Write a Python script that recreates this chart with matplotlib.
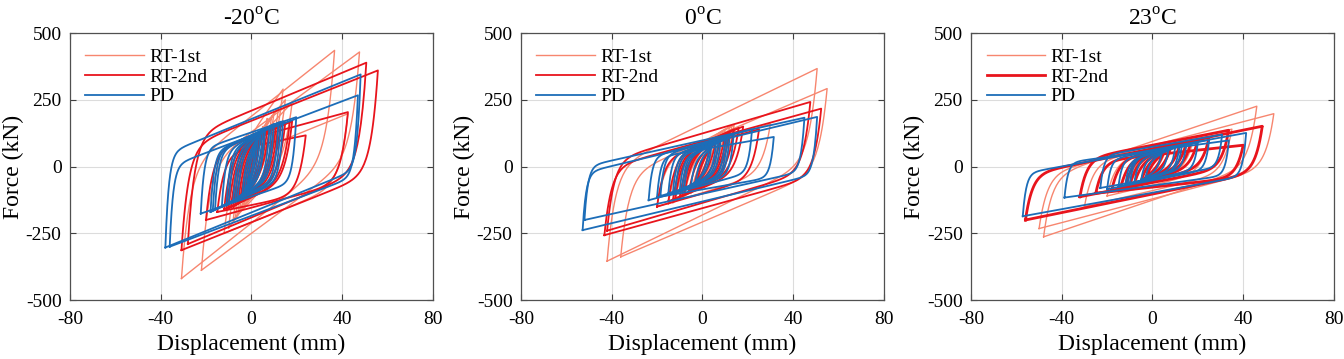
import numpy as np
import matplotlib
matplotlib.use("Agg")
import matplotlib.pyplot as plt

plt.rcParams["font.family"] = ["Liberation Serif", "DejaVu Serif"]
plt.rcParams["mathtext.fontset"] = "custom"
plt.rcParams["mathtext.rm"] = "Liberation Serif"
plt.rcParams["axes.unicode_minus"] = False

# Hysteresis cycles:
# (negative peak disp mm, negative peak force kN, positive peak disp mm, positive peak force kN, half loop height kN)
titles = ["-20$^{\\mathrm{o}}$C", "0$^{\\mathrm{o}}$C", "23$^{\\mathrm{o}}$C"]
series_names = ["RT-1st", "RT-2nd", "PD"]

rt1_m20 = [(-30.8, -419, 36.7, 435, 200), (-22, -388, 47.7, 429, 190), (-12, -250, 42.6, 198, 130),
           (-10, -230, 14, 290, 120), (-8, -200, 15, 250, 110), (-7, -190, 18, 240, 105),
           (-6, -180, 12, 220, 100), (-5, -160, 10, 200, 90), (-4, -150, 9, 190, 85),
           (-3, -140, 7, 180, 80), (-2, -120, 5, 150, 65)]
rt2_m20 = [(-30.8, -313, 55.8, 360, 190), (-28, -290, 50.7, 389, 200), (-20, -200, 42.6, 204, 130),
           (-15, -170, 24, 117, 110), (-12, -160, 18, 170, 110), (-11, -158, 17, 168, 108),
           (-10, -155, 15, 165, 105), (-9, -152, 13, 162, 102), (-8, -150, 12, 160, 100),
           (-7, -145, 11, 155, 98), (-6, -140, 10, 150, 95), (-5, -130, 8, 140, 85),
           (-4, -122, 7, 135, 80), (-3, -115, 6, 130, 75), (-2, -100, 4, 110, 60)]
pd_m20 = [(-37.9, -303, 48.2, 345, 175), (-36, -300, 47, 267, 150), (-22.3, -176, 19.8, 185, 120),
          (-18, -170, 14, 170, 110), (-17, -165, 13, 168, 108), (-16, -160, 12, 165, 105),
          (-13, -150, 10, 160, 100), (-11, -145, 9, 155, 98), (-10, -140, 8, 150, 95),
          (-8, -130, 6, 140, 90), (-7, -125, 6, 135, 85), (-6, -120, 5, 130, 80),
          (-4, -110, 4, 120, 70), (-3, -100, 3, 110, 60), (-2, -85, 2, 90, 48)]

rt1_0 = [(-42, -354, 50.6, 367, 170), (-36, -338, 55, 292, 150), (-20, -150, 30, 160, 90),
         (-15, -140, 14, 155, 85), (-13, -135, 13, 152, 82), (-12, -130, 12, 150, 80),
         (-10, -120, 10, 140, 75), (-9, -115, 9, 135, 70), (-8, -110, 8, 130, 65),
         (-5, -100, 6, 110, 55), (-3, -85, 4, 95, 45)]
rt2_0 = [(-43.2, -257, 52.4, 217, 125), (-42, -240, 47.6, 242, 130), (-20, -150, 25, 140, 90),
         (-15, -130, 18, 150, 85), (-13, -125, 16, 145, 82), (-12, -120, 14, 140, 80),
         (-10, -115, 12, 130, 75), (-9, -110, 11, 125, 72), (-8, -105, 10, 120, 70),
         (-6, -95, 8, 110, 60), (-4, -85, 6, 95, 50), (-3, -75, 4, 85, 42)]
pd_0 = [(-52.8, -238, 50.6, 186, 107), (-52, -200, 45, 183, 100), (-20, -115, 31.5, 111, 75),
        (-23.7, -126, 21.9, 140, 80), (-18.5, -110, 13.8, 120, 75), (-15, -100, 12, 110, 70),
        (-13, -98, 11, 105, 68), (-12, -95, 10, 100, 65), (-10, -90, 8, 95, 60),
        (-9, -85, 7, 90, 58), (-8, -80, 6, 85, 55), (-5, -70, 4, 75, 45), (-3, -60, 3, 65, 38)]

rt1_23 = [(-48, -263, 46, 226, 110), (-50, -232, 53.5, 198, 100), (-30, -150, 35, 140, 80),
          (-20, -110, 25, 110, 65), (-15, -95, 18, 100, 55), (-12, -88, 15, 95, 52),
          (-10, -80, 12, 90, 50), (-6, -70, 8, 75, 40), (-4, -60, 6, 65, 35)]
rt2_23 = [(-56, -200, 48.4, 151, 85), (-32, -113, 33.6, 136, 70), (-25, -100, 40, 80, 60),
          (-18, -90, 25, 110, 55), (-14, -80, 20, 100, 50), (-12, -75, 17, 95, 48),
          (-10, -70, 15, 90, 45), (-8, -65, 12, 80, 40), (-5, -55, 8, 70, 35), (-3, -45, 5, 55, 28)]
pd_23 = [(-57.2, -186, 41.3, 126, 80), (-38.8, -116, 33.7, 98, 65), (-23, -80, 30.7, 120, 60),
         (-20, -85, 25, 100, 55), (-15, -75, 20, 90, 50), (-12, -70, 15, 85, 45),
         (-11, -68, 13, 82, 45), (-10, -65, 12, 80, 45), (-8, -60, 10, 70, 40),
         (-5, -50, 7, 60, 35), (-3, -40, 4, 48, 28)]

panels = [[rt1_m20, rt2_m20, pd_m20], [rt1_0, rt2_0, pd_0], [rt1_23, rt2_23, pd_23]]

x_ticks = [-80, -40, 0, 40, 80]
y_ticks = [-500, -250, 0, 250, 500]

colors = ["#F7866F", "#E8141C", "#1C6DB8"]
widths = [[1.0, 1.3, 1.3], [1.0, 1.3, 1.3], [1.0, 2.0, 1.3]]
corner = [3.5, 3.0, 1.5]  # unloading sharpness (mm) per series


def loop_path(dneg, fneg, dpos, fpos, q, dy):
    """Closed hysteresis loop through the two peaks."""
    k2 = (fpos - fneg - 2 * q) / (dpos - dneg)
    d_up = np.linspace(dneg, dpos, 200)
    f_up = fpos + k2 * (d_up - dpos) - 2 * q * np.exp(-(d_up - dneg) / dy)
    d_dn = d_up[::-1]
    f_dn = fneg + k2 * (d_dn - dneg) + 2 * q * np.exp(-(dpos - d_dn) / dy)
    return np.concatenate([d_up, d_dn]), np.concatenate([f_up, f_dn])


fig = plt.figure(figsize=(13.44, 3.59), dpi=100)
lefts = [0.052, 0.3876, 0.7225]

for p, cycles_set in enumerate(panels):
    ax = fig.add_axes([lefts[p], 0.164, 0.270, 0.744])
    for s, cycles in enumerate(cycles_set):
        for i, (dn, fn, dp, fp, q) in enumerate(cycles):
            x, y = loop_path(dn, fn, dp, fp, q, corner[s])
            ax.plot(x, y, color=colors[s], linewidth=widths[p][s],
                    label=series_names[s] if i == 0 else None, zorder=2 + s)

    ax.set_xlim(-80, 80)
    ax.set_ylim(-500, 500)
    ax.set_xticks(x_ticks)
    ax.set_yticks(y_ticks)
    ax.grid(True, color="#DCDCDC", linewidth=0.8)
    ax.set_axisbelow(True)
    ax.tick_params(direction="in", top=True, right=True, length=4, labelsize=14,
                   color="#404040")
    ax.tick_params(axis="x", pad=8)
    ax.tick_params(axis="y", pad=6)
    for sp in ax.spines.values():
        sp.set_color("#505050")
        sp.set_linewidth(0.9)
    ax.set_xlabel("Displacement (mm)", fontsize=17, labelpad=4)
    ax.set_ylabel("Force (kN)", fontsize=17, labelpad=1)
    ax.set_title(titles[p], fontsize=17, pad=5)
    leg = ax.legend(loc="upper left", frameon=False, fontsize=14, handlelength=3.0,
                    handletextpad=0.3, labelspacing=0.1, borderaxespad=0.3,
                    borderpad=0.5)

fig.savefig("out.png", dpi=100)
